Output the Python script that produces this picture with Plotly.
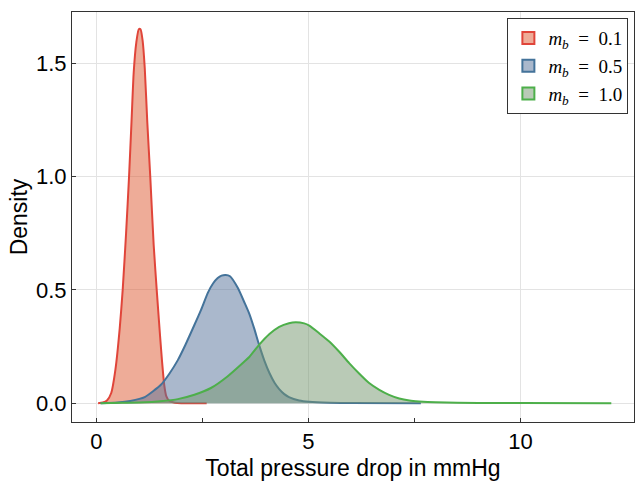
import plotly.graph_objects as go

# Density curves (x in mmHg, density)
red_x = [0.04, 0.15, 0.25, 0.35, 0.45, 0.55, 0.62, 0.70, 0.77, 0.83, 0.88, 0.94, 1.00, 1.04,
         1.09, 1.14, 1.20, 1.27, 1.35, 1.43, 1.50, 1.55, 1.60, 1.65, 1.72, 1.85, 2.0, 2.6]
red_y = [0.0, 0.003, 0.012, 0.045, 0.15, 0.33, 0.5, 0.75, 1.0, 1.25, 1.46, 1.59, 1.65, 1.65,
         1.6, 1.48, 1.24, 1.0, 0.7, 0.48, 0.3, 0.18, 0.08, 0.03, 0.01, 0.002, 0.0, 0.0]

blue_x = [0.10, 0.5, 0.8, 1.14, 1.52, 1.72, 1.92, 2.1, 2.31, 2.47, 2.63, 2.75, 2.86, 2.95,
          3.05, 3.15, 3.33, 3.5, 3.61, 3.72, 3.84, 3.96, 4.08, 4.2, 4.31, 4.43, 4.54, 4.78,
          5.02, 5.5, 6.0, 7.65]
blue_y = [0.0, 0.003, 0.01, 0.027, 0.081, 0.13, 0.19, 0.258, 0.345, 0.413, 0.488, 0.528, 0.552,
          0.563, 0.566, 0.56, 0.51, 0.44, 0.392, 0.33, 0.255, 0.188, 0.133, 0.09, 0.062, 0.04,
          0.027, 0.012, 0.006, 0.002, 0.0005, 0.0]

green_x = [0.10, 0.6, 1.14, 1.5, 1.92, 2.31, 2.70, 3.09, 3.49, 3.61, 3.84, 4.08, 4.31, 4.54,
           4.70, 4.90, 5.02, 5.25, 5.49, 5.72, 5.96, 6.2, 6.43, 6.67, 6.9, 7.14, 7.38, 7.61,
           8.0, 9.0, 10.0, 12.14]
green_y = [0.0, 0.002, 0.004, 0.009, 0.018, 0.037, 0.067, 0.118, 0.184, 0.205, 0.258, 0.305,
           0.337, 0.353, 0.357, 0.352, 0.342, 0.309, 0.272, 0.228, 0.177, 0.130, 0.089, 0.059,
           0.037, 0.021, 0.012, 0.008, 0.004, 0.001, 0.0005, 0.0]

series_names = ["<i>m</i><sub><i>b</i></sub>\u2002=\u20020.1",
                "<i>m</i><sub><i>b</i></sub>\u2002=\u20020.5",
                "<i>m</i><sub><i>b</i></sub>\u2002=\u20021.0"]

x_ticks = [0, 5, 10]
y_ticks = [0.0, 0.5, 1.0, 1.5]

line_colors = ["#E0453A", "#44739A", "#4DAF4A"]
fill_colors = ["rgba(222,90,50,0.5)", "rgba(85,113,153,0.5)", "rgba(115,150,110,0.5)"]

fig = go.Figure()
for xs, ys, name, lc, fc in zip([red_x, blue_x, green_x], [red_y, blue_y, green_y],
                                series_names, line_colors, fill_colors):
    fig.add_trace(go.Scatter(x=xs, y=ys, mode="lines", name=name, showlegend=False,
                             line=dict(color=lc, width=2, shape="spline", smoothing=0.6),
                             fill="tozeroy", fillcolor=fc))
# legend swatches (square patches like the reference)
for name, lc, fc in zip(series_names, line_colors, fill_colors):
    fig.add_trace(go.Scatter(x=[None], y=[None], mode="markers", name=name,
                             marker=dict(symbol="square", size=16, color=fc,
                                         line=dict(color=lc, width=2))))

axis_font = dict(family="Liberation Sans, Arial, sans-serif", size=22, color="black")
title_font = dict(family="Liberation Sans, Arial, sans-serif", size=23, color="black")

fig.update_layout(
    width=635, height=481,
    margin=dict(l=72, r=1, t=12, b=59),
    paper_bgcolor="white", plot_bgcolor="white",
    showlegend=True,
    legend=dict(x=0.99, y=0.985, xanchor="right", yanchor="top",
                bgcolor="white", bordercolor="#333333", borderwidth=1,
                font=dict(family="Liberation Serif, DejaVu Serif, serif", size=19, color="black"),
                tracegroupgap=0, itemwidth=30, itemsizing="constant"),
    xaxis=dict(range=[-0.575, 12.675], tickvals=x_ticks, ticktext=[str(v) for v in x_ticks],
               showgrid=True, gridcolor="#e3e3e3", gridwidth=1, zeroline=False,
               showline=True, linecolor="#333333", linewidth=1, mirror=True,
               ticks="inside", ticklen=4, tickcolor="#333333", tickfont=axis_font,
               minor=dict(tickvals=[2.5, 7.5], ticks="inside", ticklen=4, tickcolor="#333333",
                          showgrid=False),
               title=dict(text="Total pressure drop in mmHg", font=title_font, standoff=6)),
    yaxis=dict(range=[-0.083, 1.726], tickvals=y_ticks, ticktext=[f"{v:.1f}" for v in y_ticks],
               showgrid=True, gridcolor="#e3e3e3", gridwidth=1, zeroline=False,
               showline=True, linecolor="#333333", linewidth=1, mirror=True,
               ticks="inside", ticklen=4, tickcolor="#333333", tickfont=axis_font,
               title=dict(text="Density", font=title_font, standoff=1)),
)

fig.write_html("out.html", config={"displayModeBar": False},
               post_script="document.body.style.margin='0';document.body.style.padding='0';")
